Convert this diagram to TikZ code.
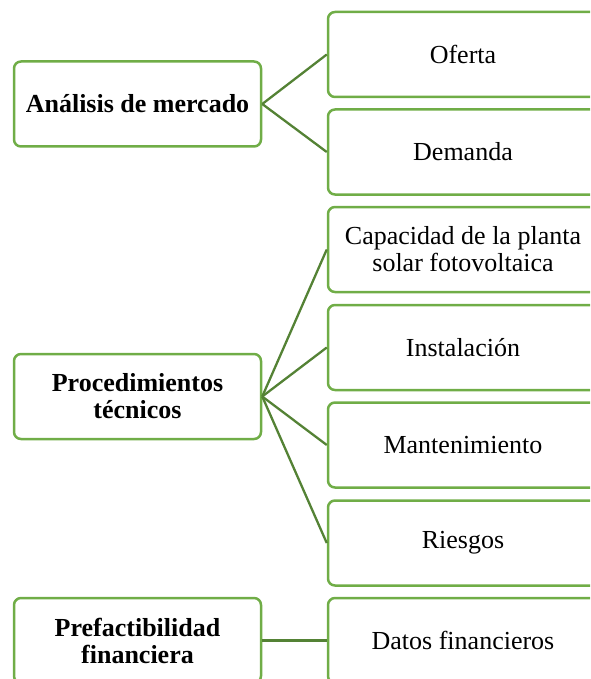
\documentclass[tikz,border=0pt]{standalone}
\usepackage{fontspec}
\setmainfont{Liberation Serif}
\usepackage{xcolor}
\usepackage{tikz}

\definecolor{boxgreen}{HTML}{70AD47}
\definecolor{linegreen}{HTML}{548235}

\begin{document}
\begin{tikzpicture}[x = 1pt, y = -1pt,
			mainbox/.style = {draw = boxgreen, line width = 2.5pt, rounded corners = 7pt, minimum width = 247pt, minimum height = 85pt, inner sep = 0pt, align = center, font = \bfseries\fontsize{26}{27}\selectfont},
			subbox/.style = {mainbox, minimum width = 270pt, font = \fontsize{26}{27}\selectfont},
			branch/.style = {draw = linegreen, line width = 2.3pt}]
			\def\xMAIN{137.5};
			\def\xSUB{463};
	
			\useasboundingbox (0,0) rectangle (590,679);
			\clip (0,0) rectangle (590,679);
	
			\begin{scope}
				\node [mainbox] (mercado) at (\xMAIN,104) {Análisis de mercado};
				\node [subbox] (oferta) at (\xSUB,54.5) {Oferta};
				\node [subbox] (demanda) at (\xSUB,152) {Demanda};
			\end{scope}
	
			\begin{scope}
				\node [mainbox] (tecnicos) at (\xMAIN,396.5) {Procedimientos\\técnicos};
				\node [subbox] (capacidad) at (\xSUB,249.5) {Capacidad de la planta\\solar fotovoltaica};
				\node [subbox] (instalacion) at (\xSUB,347.5) {Instalación};
				\node [subbox] (mantenimiento) at (\xSUB,445) {Mantenimiento};
				\node [subbox] (riesgos) at (\xSUB,543) {Riesgos};
			\end{scope}
	
			\begin{scope}
				\node [mainbox] (financiera) at (\xMAIN,640.5) {Prefactibilidad\\financiera};
				\node [subbox] (datos) at (\xSUB,640.5) {Datos financieros};
			\end{scope}
	
			\begin{scope}[branch]
				\draw (mercado.east) -- (oferta.west);
				\draw (mercado.east) -- (demanda.west);
	
				\draw (tecnicos.east) -- (capacidad.west);
				\draw (tecnicos.east) -- (instalacion.west);
				\draw (tecnicos.east) -- (mantenimiento.west);
				\draw (tecnicos.east) -- (riesgos.west);
	
				\draw (financiera.east) -- (datos.west);
			\end{scope}
		\end{tikzpicture}
\end{document}
